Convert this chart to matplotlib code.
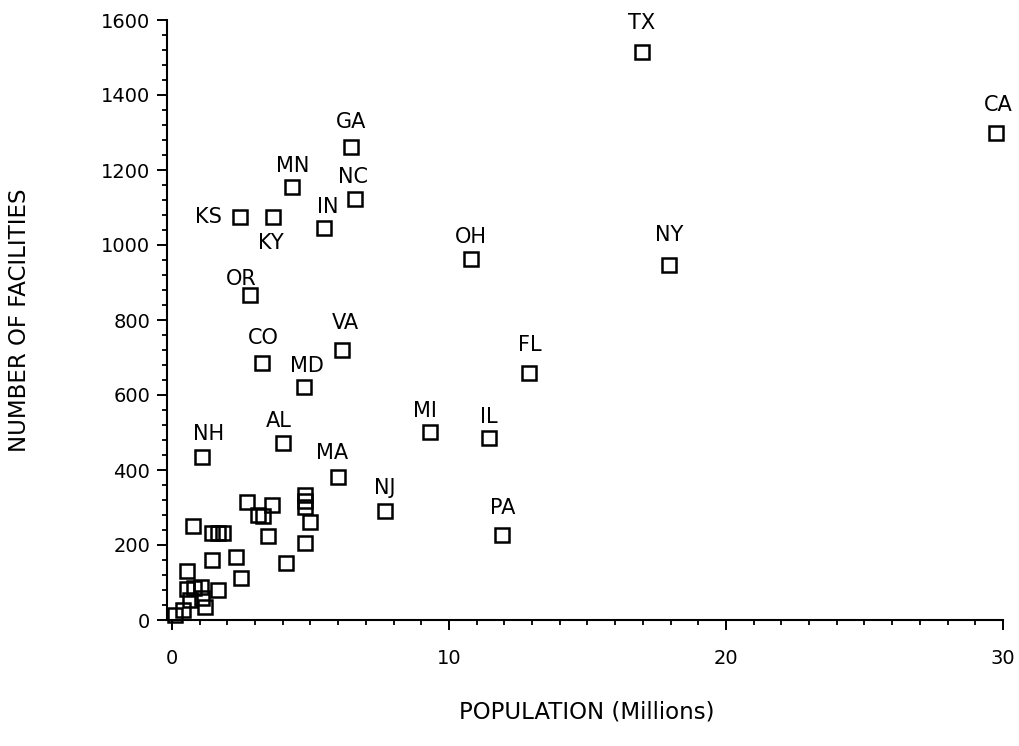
#!/usr/bin/env python3
"""
Facilities vs state population scatter chart.

Each open square is one state; the larger states carry a two-letter label.
"""

import matplotlib

matplotlib.use("Agg")
import matplotlib.pyplot as plt
from matplotlib.ticker import MultipleLocator

# Labelled states: population (millions) and number of facilities
labelled_states = ["TX", "CA", "NY", "GA", "MN", "NC", "KS", "KY", "IN", "OR", "OH",
                   "CO", "VA", "MD", "FL", "MI", "IL", "AL", "MA", "NJ", "PA", "NH"]
labelled_pop = [16.95, 29.75, 17.95, 6.45, 4.35, 6.6, 2.45, 3.65, 5.5, 2.8, 10.8,
                3.25, 6.15, 4.75, 12.9, 9.3, 11.45, 4.0, 6.0, 7.7, 11.9, 1.1]
labelled_fac = [1515, 1299, 947, 1261, 1155, 1123, 1075, 1075, 1045, 867, 963,
                685, 720, 621, 659, 501, 485, 472, 381, 291, 227, 435]

# Unlabelled states (mostly the small ones crowded near the origin)
other_pop = [0.75, 1.45, 1.65, 1.85, 2.7, 3.6, 3.1, 3.3, 3.45, 4.8, 4.8, 4.8,
             5.0, 4.8, 1.45, 2.3, 2.5, 4.1, 0.55, 1.65,
             0.55, 0.8, 1.05, 0.65, 1.1, 0.4, 1.2, 0.1]
other_fac = [251, 232, 232, 232, 316, 307, 280, 278, 224, 333, 317, 301,
             261, 205, 160, 168, 112, 152, 131, 80,
             82, 86, 88, 53, 59, 27, 35, 13]

# Label placement relative to each square, in pixels (dx, dy)
LABEL_OFFSETS = {
    "TX": (0, 29), "CA": (2, 28), "NY": (0, 30), "GA": (0, 25), "MN": (0, 21),
    "NC": (-2, 22), "KS": (-31, 0), "KY": (-2, -26), "IN": (3, 21), "OR": (-8, 16),
    "OH": (0, 22), "CO": (1, 25), "VA": (3, 27), "MD": (3, 21), "FL": (0, 28),
    "MI": (-5, 21), "IL": (0, 21), "AL": (-4, 22), "MA": (-6, 24), "NJ": (-1, 23),
    "PA": (1, 27), "NH": (6, 23),
}

FONT = "DejaVu Sans"


def create_chart(output_file: str):
    """Draw the scatter and save it."""
    fig = plt.figure(figsize=(10.2, 7.46), dpi=100)
    ax = fig.add_axes([167 / 1020, 126 / 746, 836 / 1020, 600 / 746])

    marker_style = dict(
        marker="s",
        linestyle="none",
        markersize=10,
        markerfacecolor="none",
        markeredgecolor="black",
        markeredgewidth=1.8,
        clip_on=False,
    )
    ax.plot(other_pop, other_fac, **marker_style)
    ax.plot(labelled_pop, labelled_fac, **marker_style)

    # State labels
    for name, x, y in zip(labelled_states, labelled_pop, labelled_fac):
        dx, dy = LABEL_OFFSETS[name]
        ax.annotate(
            name,
            xy=(x, y),
            xytext=(dx * 0.72, dy * 0.72),
            textcoords="offset points",
            ha="center",
            va="center",
            fontsize=15,
            family=FONT,
            color="black",
        )

    # Axes styling
    ax.set_xlim(-0.18, 30)
    ax.set_ylim(0, 1600)
    ax.xaxis.set_major_locator(MultipleLocator(10))
    ax.xaxis.set_minor_locator(MultipleLocator(1))
    ax.yaxis.set_major_locator(MultipleLocator(200))
    ax.yaxis.set_minor_locator(MultipleLocator(40))

    ax.spines["top"].set_visible(False)
    ax.spines["right"].set_visible(False)
    for side in ["left", "bottom"]:
        ax.spines[side].set_linewidth(1.5)
        ax.spines[side].set_color("black")

    ax.tick_params(axis="both", which="major", direction="out", length=7, width=1.4,
                   labelsize=14, colors="black")
    ax.tick_params(axis="both", which="minor", direction="out", length=3.6, width=1.3)
    ax.tick_params(axis="x", which="major", pad=14)
    ax.tick_params(axis="y", which="major", pad=5)
    for lbl in ax.get_xticklabels() + ax.get_yticklabels():
        lbl.set_family(FONT)

    # Axis titles
    fig.text(587 / 1020, 1 - 712 / 746, "POPULATION (Millions)", ha="center", va="center",
             fontsize=16.5, family=FONT)
    fig.text(20 / 1020, 1 - 320 / 746, "NUMBER OF FACILITIES", ha="center", va="center",
             rotation=90, fontsize=16.5, family=FONT)

    fig.savefig(output_file, dpi=100, facecolor="white")
    plt.close(fig)


def main():
    create_chart("out.png")


if __name__ == "__main__":
    main()
